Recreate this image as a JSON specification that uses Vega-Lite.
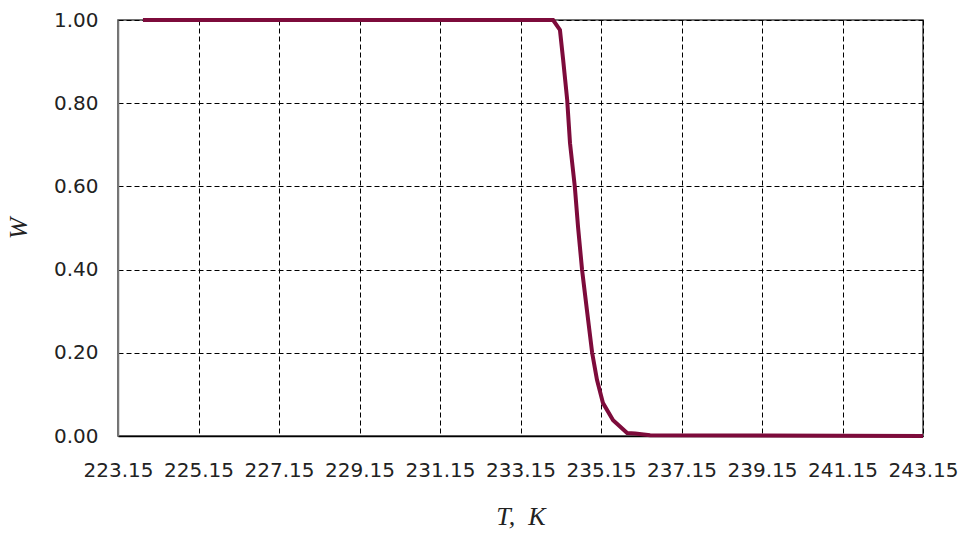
{
  "$schema": "https://vega.github.io/schema/vega-lite/v6.json",
  "width": 805,
  "height": 416,
  "autosize": {"type": "none"},
  "padding": {"left": 118, "top": 20, "right": 42, "bottom": 98},
  "background": "white",
  "config": {
    "view": {"stroke": "#444", "strokeWidth": 1.5},
    "axis": {
      "labelFont": "DejaVu Sans",
      "labelFontSize": 20,
      "labelColor": "#222",
      "titleFont": "Liberation Serif",
      "titleFontWeight": "normal",
      "titleColor": "#222",
      "gridColor": "#000",
      "gridDash": [5, 3],
      "gridWidth": 1,
      "gridOpacity": 1,
      "ticks": false
    }
  },
  "data": {
    "values": [
      {"T": 223.77, "W": 1},
      {"T": 233.96, "W": 1},
      {"T": 234.13, "W": 0.976},
      {"T": 234.21, "W": 0.904},
      {"T": 234.31, "W": 0.808},
      {"T": 234.38, "W": 0.704},
      {"T": 234.50, "W": 0.599},
      {"T": 234.58, "W": 0.502},
      {"T": 234.68, "W": 0.399},
      {"T": 234.80, "W": 0.303},
      {"T": 234.93, "W": 0.2},
      {"T": 235.05, "W": 0.135},
      {"T": 235.20, "W": 0.079},
      {"T": 235.45, "W": 0.038},
      {"T": 235.80, "W": 0.007},
      {"T": 236.00, "W": 0.006},
      {"T": 236.37, "W": 0.002},
      {"T": 243.15, "W": 0}
    ]
  },
  "mark": {"type": "line", "color": "#7d0b3b", "strokeWidth": 4, "clip": false},
  "encoding": {
    "x": {
      "field": "T",
      "type": "quantitative",
      "scale": {"domain": [223.15, 243.15], "nice": false, "zero": false},
      "axis": {
        "values": [223.15, 225.15, 227.15, 229.15, 231.15, 233.15, 235.15, 237.15, 239.15, 241.15, 243.15],
        "format": ".2f",
        "labelPadding": 24,
        "labelFlush": false,
        "domainColor": "#000",
        "domainWidth": 1.5,
        "title": "T,\u00a0\u00a0K",
        "titleFontSize": 26,
        "titleFontStyle": "italic",
        "titlePadding": 23
      }
    },
    "y": {
      "field": "W",
      "type": "quantitative",
      "scale": {"domain": [0, 1], "nice": false},
      "axis": {
        "values": [0, 0.2, 0.4, 0.6, 0.8, 1],
        "format": ".2f",
        "labelPadding": 20,
        "labelFlush": false,
        "domainColor": "#777",
        "domainWidth": 1.5,
        "title": "W",
        "titleFontSize": 26,
        "titleFontStyle": "italic",
        "titlePadding": 22
      }
    }
  }
}
